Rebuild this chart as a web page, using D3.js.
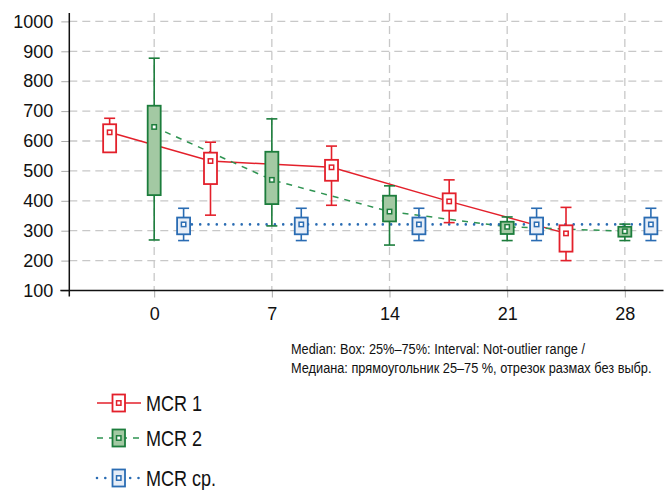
<!DOCTYPE html>
<html>
<head>
<meta charset="utf-8">
<script src="https://cdn.jsdelivr.net/npm/d3@7"></script>
<style>
  html, body { margin: 0; padding: 0; background: #fff; }
  svg { display: block; }
</style>
</head>
<body>
<svg id="chart" width="664" height="490"></svg>
<script>
// Days of observation shown on the x axis
const dayTicks = [0, 7, 14, 21, 28];
const yTicks = [100, 200, 300, 400, 500, 600, 700, 800, 900, 1000];

// Sampling day for each box of each series
const mcr1Days = [-2.65, 3.35, 10.55, 17.55, 24.5];
const mcr2Days = [0, 7, 14, 21, 28];
const mcrAvgDays = [1.75, 8.75, 15.75, 22.75, 29.55];

// Box statistics: non-outlier min, 25%, median, 75%, non-outlier max
const mcr1Low    = [562, 352, 385, 327, 200];
const mcr1Q1     = [562, 456, 467, 367, 230];
const mcr1Median = [629, 533, 512, 398, 291];
const mcr1Q3     = [656, 561, 537, 425, 318];
const mcr1High   = [676, 596, 583, 470, 378];

const mcr2Low    = [269, 316, 252, 267, 267];
const mcr2Q1     = [419, 389, 331, 289, 280];
const mcr2Median = [647, 470, 364, 313, 298];
const mcr2Q3     = [718, 564, 417, 330, 313];
const mcr2High   = [877, 674, 450, 346, 322];

const mcrAvgLow    = [267, 267, 267, 267, 267];
const mcrAvgQ1     = [288, 288, 288, 288, 288];
const mcrAvgMedian = [321, 321, 321, 321, 321];
const mcrAvgQ3     = [344, 344, 344, 344, 344];
const mcrAvgHigh   = [375, 375, 375, 375, 375];

const seriesNames = ["MCR 1", "MCR 2", "MCR ср."];
const noteLines = [
  "Median: Box: 25%\u201375%: Interval: Not-outlier range /",
  "Медиана: прямоугольник 25\u201375 %, отрезок размах без выбр."
];

function buildSeries(days, low, q1, med, q3, high) {
  return days.map((d, i) => ({ day: d, low: low[i], q1: q1[i], med: med[i], q3: q3[i], high: high[i] }));
}

const series = [
  { name: seriesNames[0], stroke: "#e3202b", fill: "#ffffff", lineColor: "#e3202b", dash: null, lineCap: "butt", lineWidth: 1.5,
    data: buildSeries(mcr1Days, mcr1Low, mcr1Q1, mcr1Median, mcr1Q3, mcr1High) },
  { name: seriesNames[1], stroke: "#1c7d3c", fill: "#a3c9a3", lineColor: "#2f9452", dash: "6,6", lineCap: "butt", lineWidth: 1.5,
    data: buildSeries(mcr2Days, mcr2Low, mcr2Q1, mcr2Median, mcr2Q3, mcr2High) },
  { name: seriesNames[2], stroke: "#2a6cb3", fill: "#e6edf7", lineColor: "#2a6cb3", dash: "0,8.3", lineCap: "round", lineWidth: 2.6,
    data: buildSeries(mcrAvgDays, mcrAvgLow, mcrAvgQ1, mcrAvgMedian, mcrAvgQ3, mcrAvgHigh) }
];

const svg = d3.select("#chart");
const plotLeft = 69.3, plotRight = 663.5, plotTop = 13, plotBottom = 290.5;

const x = d3.scaleLinear().domain([-5.05, 30.3]).range([plotLeft, plotRight]);
const y = d3.scaleLinear().domain([100, 1000]).range([plotBottom, 21.4]);

const gridColor = "#c8c8c8";
const tickFont = "'Liberation Sans', Arial, sans-serif";
// Condensed look: regular sans squeezed horizontally
const narrowScale = 0.82;

// Dashed grid
const grid = svg.append("g");
grid.selectAll("line.h").data(yTicks.filter(v => v > 100)).join("line")
  .attr("x1", plotLeft).attr("x2", plotRight)
  .attr("y1", d => y(d)).attr("y2", d => y(d))
  .attr("stroke", gridColor).attr("stroke-width", 1.3).attr("stroke-dasharray", "8,5");
grid.selectAll("line.v").data(dayTicks).join("line")
  .attr("x1", d => x(d)).attr("x2", d => x(d))
  .attr("y1", plotTop).attr("y2", plotBottom)
  .attr("stroke", gridColor).attr("stroke-width", 1.3).attr("stroke-dasharray", "8,5");

// Y axis
const yAxis = svg.append("g").attr("transform", `translate(${plotLeft},0)`)
  .call(d3.axisLeft(y).tickValues(yTicks).tickSize(8).tickPadding(8).tickFormat(d3.format("d")));
yAxis.select(".domain").remove();
yAxis.selectAll(".tick line").attr("stroke", "#aaaaaa").attr("stroke-width", 1);
yAxis.selectAll(".tick text").attr("font-family", tickFont).attr("font-size", 18).attr("fill", "#111");
svg.append("line").attr("x1", plotLeft).attr("x2", plotLeft).attr("y1", plotTop).attr("y2", plotBottom + 6)
  .attr("stroke", "#111").attr("stroke-width", 1.5);

// X axis
const xAxis = svg.append("g").attr("transform", `translate(0,${plotBottom})`)
  .call(d3.axisBottom(x).tickValues(dayTicks).tickSize(7).tickPadding(10).tickFormat(d3.format("d")));
xAxis.select(".domain").remove();
xAxis.selectAll(".tick line").attr("stroke", "#aaaaaa").attr("stroke-width", 1);
xAxis.selectAll(".tick text").attr("font-family", tickFont).attr("font-size", 18).attr("fill", "#111");
svg.append("line").attr("x1", plotLeft - 9).attr("x2", plotRight).attr("y1", plotBottom).attr("y2", plotBottom)
  .attr("stroke", "#111").attr("stroke-width", 1.5);

// Median connecting lines (under the boxes)
const medLine = d3.line().x(d => x(d.day)).y(d => y(d.med));
svg.append("g").selectAll("path").data(series).join("path")
  .attr("d", s => medLine(s.data))
  .attr("fill", "none")
  .attr("stroke", s => s.lineColor)
  .attr("stroke-width", s => s.lineWidth)
  .attr("stroke-dasharray", s => s.dash)
  .attr("stroke-linecap", s => s.lineCap);

// Box plots
const boxW = 13, capW = 11, markSize = 4.4;
series.forEach(s => {
  const g = svg.append("g");
  const items = g.selectAll("g").data(s.data).join("g");
  items.append("line")
    .attr("x1", d => x(d.day)).attr("x2", d => x(d.day))
    .attr("y1", d => y(d.high)).attr("y2", d => y(d.q3))
    .attr("stroke", s.stroke).attr("stroke-width", 1.6);
  items.append("line")
    .attr("x1", d => x(d.day)).attr("x2", d => x(d.day))
    .attr("y1", d => y(d.q1)).attr("y2", d => y(d.low))
    .attr("stroke", s.stroke).attr("stroke-width", 1.6);
  items.append("line")
    .attr("x1", d => x(d.day) - capW / 2).attr("x2", d => x(d.day) + capW / 2)
    .attr("y1", d => y(d.high)).attr("y2", d => y(d.high))
    .attr("stroke", s.stroke).attr("stroke-width", 1.6);
  items.filter(d => d.low < d.q1).append("line")
    .attr("x1", d => x(d.day) - capW / 2).attr("x2", d => x(d.day) + capW / 2)
    .attr("y1", d => y(d.low)).attr("y2", d => y(d.low))
    .attr("stroke", s.stroke).attr("stroke-width", 1.6);
  items.append("rect")
    .attr("x", d => x(d.day) - boxW / 2).attr("width", boxW)
    .attr("y", d => y(d.q3)).attr("height", d => y(d.q1) - y(d.q3))
    .attr("fill", s.fill).attr("stroke", s.stroke).attr("stroke-width", 1.8);
  items.append("rect")
    .attr("x", d => x(d.day) - markSize / 2).attr("width", markSize)
    .attr("y", d => y(d.med) - markSize / 2).attr("height", markSize)
    .attr("fill", "#ffffff").attr("stroke", s.stroke).attr("stroke-width", 1.5);
});

// Statistics note, squeezed so the longer line spans 361px
const note = svg.append("g");
const noteTexts = note.selectAll("text").data(noteLines).join("text")
  .attr("font-family", tickFont).attr("font-size", 14.5).attr("fill", "#111")
  .text(d => d);
const longest = d3.max(noteTexts.nodes(), n => n.getComputedTextLength());
const noteScale = Math.min(1, 361 / longest);
noteTexts.attr("transform", (d, i) => `translate(291,${354 + i * 18.5}) scale(${noteScale},1)`);

// Legend
const legendRows = [403, 438, 478];
const legend = svg.append("g");
series.forEach((s, i) => {
  const ly = legendRows[i];
  const row = legend.append("g");
  row.append("line").attr("x1", 97).attr("x2", 141).attr("y1", ly).attr("y2", ly)
    .attr("stroke", s.lineColor).attr("stroke-width", s.lineWidth)
    .attr("stroke-dasharray", s.dash).attr("stroke-linecap", s.lineCap);
  row.append("rect").attr("x", 112.5).attr("y", ly - 8.5).attr("width", 12.5).attr("height", 17)
    .attr("fill", s.fill).attr("stroke", s.stroke).attr("stroke-width", 1.8);
  row.append("rect").attr("x", 118.75 - markSize / 2).attr("y", ly - markSize / 2)
    .attr("width", markSize).attr("height", markSize)
    .attr("fill", "#ffffff").attr("stroke", s.stroke).attr("stroke-width", 1.5);
  row.append("text")
    .attr("transform", `translate(146,${ly}) scale(${narrowScale},1)`)
    .attr("dy", "0.36em")
    .attr("font-family", tickFont).attr("font-size", 22).attr("fill", "#111")
    .text(s.name);
});
</script>
</body>
</html>
